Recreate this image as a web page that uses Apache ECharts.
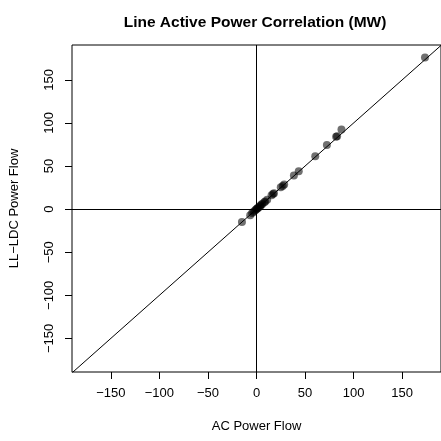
<!DOCTYPE html>
<html>
<head>
<meta charset="utf-8">
<script src="https://cdn.jsdelivr.net/npm/echarts@6/dist/echarts.min.js"></script>
<style>
html,body{margin:0;padding:0;background:#fff;}
#c{width:441px;height:441px;}
</style>
</head>
<body>
<div id="c"></div>
<script>
// Data
var acFlow   = [173.5, 87.5, 83, 82, 72.5, 60.5, 43.5, 38.5, 28.5, 27, 25, 18, 17, 15.5, 11, 9, 8, 6, 5, 4, 3.5, 2, 1, 0.5, -0.5, -1.5, -3, -4.5, -6.5, -15];
var lldcFlow = [176, 92.5, 84.5, 84, 74.5, 61.5, 44, 39, 28.5, 27, 25.5, 18.5, 17.5, 16, 11, 9, 8, 6, 5.5, 4, 3, 2, 1, 0.5, -0.5, -1.5, -3, -4.5, -7, -15];
var xTicks = [-150, -100, -50, 0, 50, 100, 150];
var yTicks = [-150, -100, -50, 0, 50, 100, 150];
var refX = [0];
var refY = [0];
var diagonal = [-200, 200];

var points = acFlow.map(function (v, i) { return [v, lldcFlow[i]]; });
var diagData = diagonal.map(function (v) { return [v, v]; });
var fmt = function (v) { return String(v).replace('-', '\u2212'); };
var font = 'Liberation Sans, Arial, Helvetica, sans-serif';

var chart = echarts.init(document.getElementById('c'), null, {renderer: 'canvas'});
chart.setOption({
  animation: false,
  backgroundColor: '#fff',
  title: {
    text: 'Line Active Power Correlation (MW)',
    left: 250, top: 10, textAlign: 'center',
    textStyle: {fontFamily: font, fontSize: 15.5, fontWeight: 'bold', color: '#000'}
  },
  grid: {
    left: 69, top: 45, width: 375, height: 327,
    show: true, borderColor: '#000', borderWidth: 1, backgroundColor: 'transparent'
  },
  xAxis: {
    type: 'value', min: -190, max: 190,
    name: 'AC Power Flow', nameLocation: 'middle', nameGap: 48,
    nameTextStyle: {fontFamily: font, fontSize: 13, color: '#000'},
    axisLine: {show: false, onZero: false},
    axisTick: {show: true, length: 7, customValues: xTicks, lineStyle: {color: '#000', width: 1}},
    axisLabel: {customValues: xTicks, formatter: fmt, margin: 15, fontFamily: font, fontSize: 13, color: '#000'},
    splitLine: {show: false}
  },
  yAxis: {
    type: 'value', min: -189, max: 190.5,
    name: 'LL\u2212LDC Power Flow', nameLocation: 'middle', nameGap: 51, nameRotate: 90,
    nameTextStyle: {fontFamily: font, fontSize: 13, color: '#000'},
    axisLine: {show: false, onZero: false},
    axisTick: {show: true, length: 7, customValues: yTicks, lineStyle: {color: '#000', width: 1}},
    axisLabel: {customValues: yTicks, formatter: fmt, rotate: 90, margin: 16, fontFamily: font, fontSize: 13, color: '#000'},
    splitLine: {show: false}
  },
  series: [
    {
      type: 'line', data: diagData, showSymbol: false, silent: true, clip: true,
      lineStyle: {color: '#000', width: 1}
    },
    {
      type: 'scatter', data: points, symbol: 'circle', symbolSize: 8,
      itemStyle: {color: 'rgba(0,0,0,0.7)'},
      markLine: {
        silent: true, symbol: 'none', label: {show: false},
        lineStyle: {color: '#000', width: 1, type: 'solid'},
        data: refX.map(function (v) { return {xAxis: v}; }).concat(refY.map(function (v) { return {yAxis: v}; }))
      }
    }
  ]
});
</script>
</body>
</html>
